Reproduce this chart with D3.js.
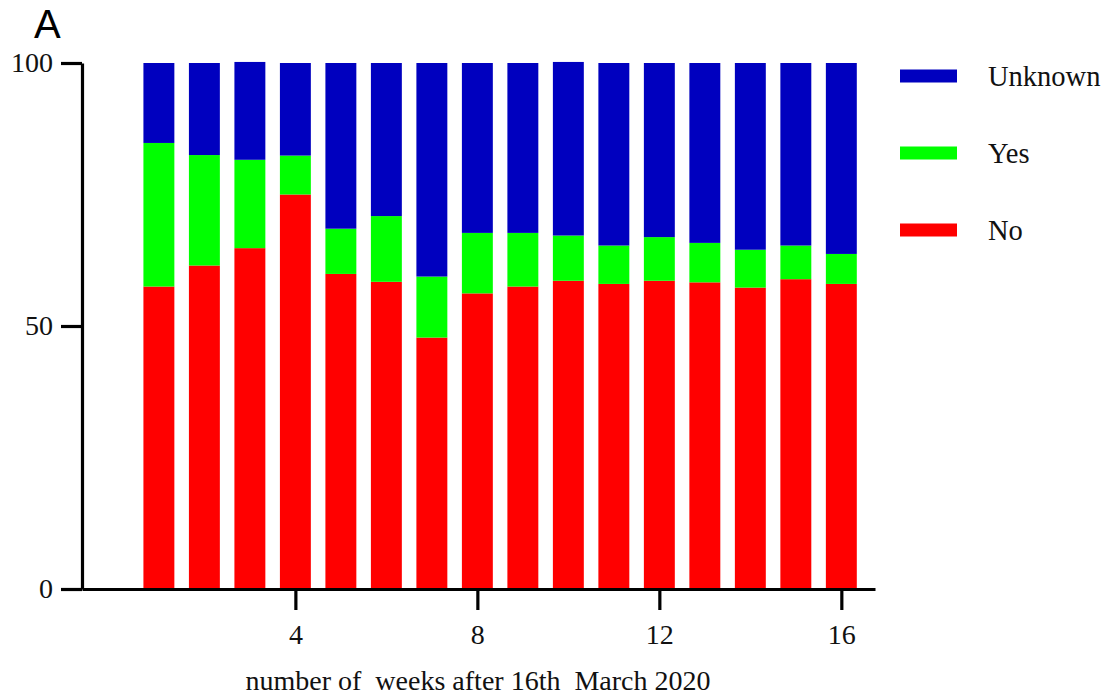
<!DOCTYPE html>
<html>
<head>
<meta charset="utf-8">
<script src="https://cdn.jsdelivr.net/npm/d3@7.9.0/dist/d3.min.js"></script>
<style>
  html, body { margin: 0; padding: 0; background: #fff; }
  svg { display: block; }
  .serif { font-family: "Liberation Serif", "Times New Roman", serif; fill: #111; }
</style>
</head>
<body>
<div id="chart"></div>
<script>
// weeks after 16th March 2020
const weeks = d3.range(1, 17);
// percentage of responses per week (No / Yes / Unknown)
const noVals = [57.5, 61.5, 64.8, 75.0, 59.9, 58.4, 47.8, 56.2, 57.5, 58.6, 58.0, 58.6, 58.3, 57.3, 58.9, 58.0];
const yesVals = [27.3, 21.0, 16.8, 7.4, 8.6, 12.5, 11.6, 11.5, 10.2, 8.6, 7.3, 8.3, 7.5, 7.2, 6.4, 5.7];
const unknownVals = [15.2, 17.5, 18.6, 17.6, 31.5, 29.1, 40.6, 32.3, 32.3, 33.0, 34.7, 33.1, 34.2, 35.5, 34.7, 36.3];

const keys = ['No', 'Yes', 'Unknown'];
const colors = { No: '#ff0000', Yes: '#00ff00', Unknown: '#0000bf' };
const legendOrder = ['Unknown', 'Yes', 'No'];

const xTicks = [4, 8, 12, 16];
const yTicks = [0, 50, 100];

const width = 1110;
const height = 697;

const rows = weeks.map((w, i) => ({
  week: w,
  No: noVals[i],
  Yes: yesVals[i],
  Unknown: unknownVals[i],
}));

const stack = d3.stack().keys(keys);
const series = stack(rows);

const svg = d3.select('#chart')
  .append('svg')
  .attr('width', width)
  .attr('height', height);

// scales
const x = d3.scaleLinear()
  .domain([-0.69, 16.74])
  .range([82, 875]);

const y = d3.scaleLinear()
  .domain([0, 100])
  .range([589, 63]);

const barW = x(0.68) - x(0);

// bars
svg.append('g')
  .selectAll('g')
  .data(series)
  .join('g')
  .attr('fill', (d) => colors[d.key])
  .selectAll('rect')
  .data((d) => d)
  .join('rect')
  .attr('x', (d) => x(d.data.week) - barW / 2)
  .attr('width', barW)
  .attr('y', (d) => y(d[1]))
  .attr('height', (d) => y(d[0]) - y(d[1]));

// axes
const xAxis = svg.append('g')
  .attr('transform', `translate(0, ${y(0)})`)
  .call(d3.axisBottom(x)
    .tickValues(xTicks)
    .tickSize(21)
    .tickSizeOuter(0)
    .tickPadding(14));

const yAxis = svg.append('g')
  .attr('transform', `translate(${x(-0.69)}, 0)`)
  .call(d3.axisLeft(y)
    .tickValues(yTicks)
    .tickSize(21)
    .tickSizeOuter(0)
    .tickPadding(8));

[xAxis, yAxis].forEach((g) => {
  g.selectAll('path, line')
    .attr('stroke', '#000')
    .attr('stroke-width', 3.2);
  g.selectAll('text')
    .attr('class', 'serif')
    .attr('fill', '#111')
    .style('font-size', '28px');
});

// axis title
svg.append('text')
  .attr('class', 'serif')
  .attr('x', 478)
  .attr('y', 690)
  .attr('text-anchor', 'middle')
  .style('font-size', '28px')
  .style('white-space', 'pre')
  .text('number of  weeks after 16th  March 2020');

// panel letter
svg.append('text')
  .attr('x', 34)
  .attr('y', 38)
  .style('font-family', '"Liberation Sans", Arial, sans-serif')
  .style('font-size', '40px')
  .attr('fill', '#000')
  .text('A');

// legend
const legend = svg.append('g')
  .selectAll('g')
  .data(legendOrder)
  .join('g')
  .attr('transform', (d, i) => `translate(900, ${76 + i * 77})`);

legend.append('rect')
  .attr('x', 0)
  .attr('y', -6.5)
  .attr('width', 57)
  .attr('height', 13)
  .attr('fill', (d) => colors[d]);

legend.append('text')
  .attr('class', 'serif')
  .attr('x', 88)
  .attr('y', 10)
  .style('font-size', '28.5px')
  .text((d) => d);
</script>
</body>
</html>
